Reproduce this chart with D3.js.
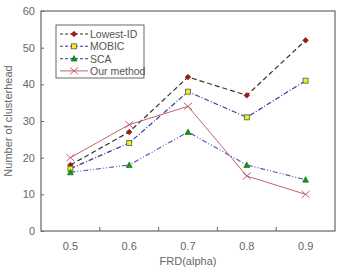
<!DOCTYPE html>
<html><head><meta charset="utf-8">
<script src="https://cdn.jsdelivr.net/npm/d3@7"></script>
<style>body{margin:0;background:#fff}svg{display:block}text{font-family:"Liberation Sans",Arial,sans-serif}</style>
</head><body>
<svg id="c" width="337" height="269"></svg>
<script>
const categories = ["0.5","0.6","0.7","0.8","0.9"];
const lowestID = [18, 27, 42, 37, 52];
const mobic = [17, 24, 38, 31, 41];
const sca = [16, 18, 27, 18, 14];
const ourMethod = [20, 29, 34, 15, 10];
const yTicks = [0,10,20,30,40,50,60];
const seriesNames = ["Lowest-ID","MOBIC","SCA","Our method"];

const series = [
  {name: seriesNames[0], values: lowestID, stroke: "#333", dash: "5,3", marker: "diamond", fill: "#a01818", mstroke: "#801010"},
  {name: seriesNames[1], values: mobic, stroke: "#3a3a9a", dash: "5,2,1,2", marker: "square", fill: "#f0f020", mstroke: "#555"},
  {name: seriesNames[2], values: sca, stroke: "#5a5ac0", dash: "5,2,1,2,1,2", marker: "triangle", fill: "#119911", mstroke: "#0a6a0a"},
  {name: seriesNames[3], values: ourMethod, stroke: "#c06470", dash: null, marker: "x", fill: "none", mstroke: "#c05060"}
];

const svg = d3.select("#c");
const m = {l: 41, r: 335, t: 11, b: 231};
const x = d3.scaleBand().domain(categories).range([m.l, m.r]);
const y = d3.scaleLinear().domain([0, 60]).range([m.b, m.t]);
const axisColor = "#666", textColor = "#666";

svg.append("rect").attr("x", m.l).attr("y", m.t).attr("width", m.r - m.l).attr("height", m.b - m.t)
  .attr("fill", "none").attr("stroke", axisColor).attr("stroke-width", 1.2);

const xa = svg.append("g").attr("transform", `translate(0,${m.b})`);
xa.call(d3.axisBottom(x).tickSize(0).tickPadding(11));
xa.select(".domain").remove();
xa.selectAll("text").attr("fill", textColor).attr("font-size", 11);
categories.slice(1).forEach(c => {
  svg.append("line").attr("x1", x(c)).attr("x2", x(c)).attr("y1", m.b).attr("y2", m.b - 4)
    .attr("stroke", axisColor);
});

const ya = svg.append("g").attr("transform", `translate(${m.l},0)`);
ya.call(d3.axisLeft(y).tickValues(yTicks).tickSize(-3).tickPadding(6));
ya.select(".domain").remove();
ya.selectAll("line").attr("stroke", axisColor);
ya.selectAll("text").attr("fill", textColor).attr("font-size", 11);

svg.append("text").attr("x", 188).attr("y", 265).attr("text-anchor", "middle")
  .attr("fill", textColor).attr("font-size", 11).text("FRD(alpha)");
svg.append("text").attr("transform", `translate(12,${(m.t + m.b) / 2}) rotate(-90)`)
  .attr("text-anchor", "middle").attr("fill", textColor).attr("font-size", 11).text("Number of clusterhead");

function drawMarker(g, type, cx, cy, s) {
  const sz = 2.8;
  if (type === "diamond") {
    g.append("path").attr("d", `M${cx},${cy-sz}L${cx+sz},${cy}L${cx},${cy+sz}L${cx-sz},${cy}Z`)
      .attr("fill", s.fill).attr("stroke", s.mstroke).attr("stroke-width", 0.6);
  } else if (type === "square") {
    g.append("rect").attr("x", cx - 2.5).attr("y", cy - 2.5).attr("width", 5).attr("height", 5)
      .attr("fill", s.fill).attr("stroke", s.mstroke).attr("stroke-width", 0.8);
  } else if (type === "triangle") {
    g.append("path").attr("d", `M${cx},${cy-3}L${cx+3},${cy+2.5}L${cx-3},${cy+2.5}Z`)
      .attr("fill", s.fill).attr("stroke", s.mstroke).attr("stroke-width", 0.6);
  } else if (type === "x") {
    g.append("path").attr("d", `M${cx-4},${cy-3.5}L${cx+4},${cy+3.5}M${cx-4},${cy+3.5}L${cx+4},${cy-3.5}`)
      .attr("stroke", s.mstroke).attr("stroke-width", 0.9).attr("fill", "none");
  }
}

const line = d3.line().x((d, i) => x(categories[i]) + x.bandwidth() / 2).y(d => y(d));
series.forEach(s => {
  const g = svg.append("g");
  g.append("path").datum(s.values).attr("d", line).attr("fill", "none")
    .attr("stroke", s.stroke).attr("stroke-width", s.dash ? 1.2 : 1)
    .attr("stroke-dasharray", s.dash);
  s.values.forEach((v, i) => drawMarker(g, s.marker, x(categories[i]) + x.bandwidth() / 2, y(v), s));
});

const lg = svg.append("g");
lg.append("rect").attr("x", 56).attr("y", 25).attr("width", 88).attr("height", 53)
  .attr("fill", "#fff").attr("stroke", "#444").attr("stroke-width", 0.8);
series.forEach((s, i) => {
  const ly = 34 + i * 12.3;
  lg.append("line").attr("x1", 60).attr("x2", 88).attr("y1", ly).attr("y2", ly)
    .attr("stroke", s.stroke).attr("stroke-width", s.dash ? 1.1 : 1).attr("stroke-dasharray", s.dash ? "3,2" : null);
  drawMarker(lg, s.marker, 74, ly, s);
  lg.append("text").attr("x", 90).attr("y", ly + 4).attr("font-size", 10.5).attr("fill", "#555").text(s.name);
});
</script>
</body></html>
